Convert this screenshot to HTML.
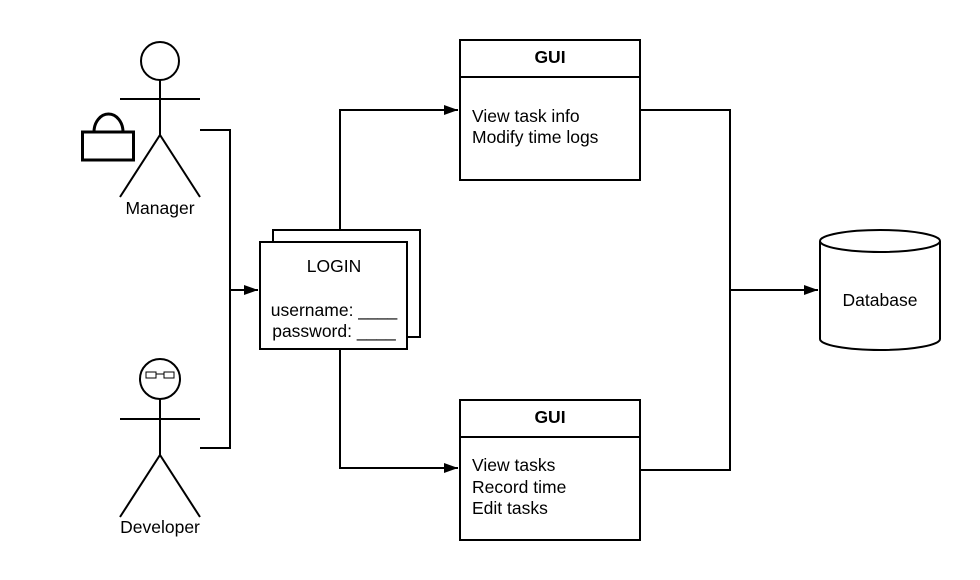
<!DOCTYPE html>
<html><head><style>body{margin:0;background:#fff}svg{display:block}text{font-family:"Liberation Sans",sans-serif;fill:#000}</style></head>
<body>
<svg width="980" height="580" viewBox="0 0 980 580" xmlns="http://www.w3.org/2000/svg">
<defs><marker id="a" markerWidth="14" markerHeight="10" refX="14" refY="5" orient="auto" markerUnits="userSpaceOnUse"><path d="M0,0 L14,5 L0,10 z" fill="#000"/></marker></defs>
<g fill="none" stroke="#000" stroke-width="2">
<circle cx="160" cy="61" r="19"/>
<line x1="120" y1="99" x2="200" y2="99"/>
<line x1="160" y1="80" x2="160" y2="135"/>
<path d="M120,197 L160,135 L200,197"/>
<rect x="82.5" y="132" width="51" height="28" stroke-width="3"/>
<path d="M94,132 A14.5,18 0 0 1 123,132" stroke-width="3"/>
<circle cx="160" cy="379" r="20"/>
<line x1="120" y1="419" x2="200" y2="419"/>
<line x1="160" y1="399" x2="160" y2="455"/>
<path d="M120,517 L160,455 L200,517"/>
<g stroke-width="1"><rect x="146" y="372" width="10" height="6"/><rect x="164" y="372" width="10" height="6"/><line x1="156" y1="374" x2="164" y2="374"/></g>
<path d="M200,130 H230 V448 H200"/>
<line x1="230" y1="290" x2="258" y2="290" marker-end="url(#a)"/>
<path d="M340,230 V110 H458" marker-end="url(#a)"/>
<path d="M340,350 V468 H458" marker-end="url(#a)"/>
<path d="M640,110 H730 V470 H640"/>
<line x1="730" y1="290" x2="818" y2="290" marker-end="url(#a)"/>
<rect x="273" y="230" width="147" height="107" fill="#fff"/>
<rect x="260" y="242" width="147" height="107" fill="#fff"/>
<rect x="460" y="40" width="180" height="140" fill="#fff"/>
<line x1="460" y1="77" x2="640" y2="77"/>
<rect x="460" y="400" width="180" height="140" fill="#fff"/>
<line x1="460" y1="437" x2="640" y2="437"/>
<path d="M820,241 V339 A60,11 0 0 0 940,339 V241" fill="#fff"/>
<ellipse cx="880" cy="241" rx="60" ry="11" fill="#fff"/>
</g>
<g font-size="17.5">
<text x="160" y="214" text-anchor="middle">Manager</text>
<text x="160" y="533" text-anchor="middle">Developer</text>
<text x="334" y="272" text-anchor="middle">LOGIN</text>
<text x="334" y="316" text-anchor="middle">username: ____</text>
<text x="334" y="337" text-anchor="middle">password: ____</text>
<text x="550" y="63" text-anchor="middle" font-weight="bold">GUI</text>
<text x="472" y="122">View task info</text>
<text x="472" y="143">Modify time logs</text>
<text x="550" y="423" text-anchor="middle" font-weight="bold">GUI</text>
<text x="472" y="471">View tasks</text>
<text x="472" y="493">Record time</text>
<text x="472" y="514">Edit tasks</text>
<text x="880" y="306" text-anchor="middle">Database</text>
</g>
</svg>
</body></html>
